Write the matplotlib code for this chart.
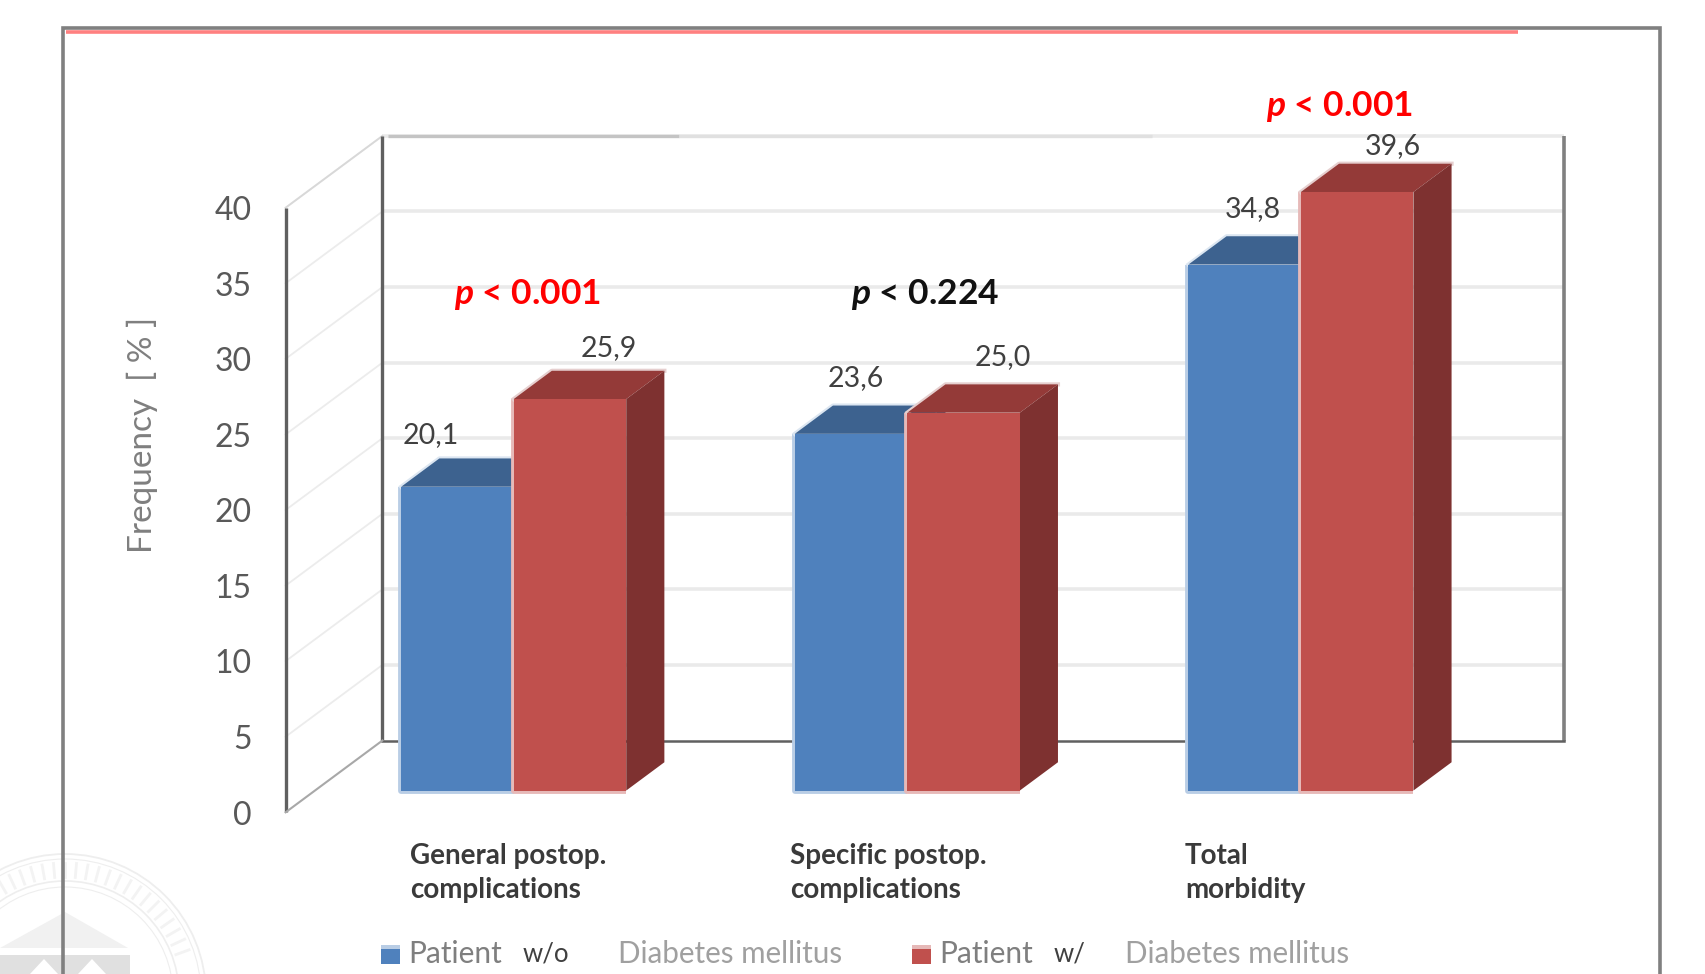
import matplotlib
matplotlib.use("Agg")
import matplotlib.pyplot as plt
import numpy as np
from matplotlib.patches import Circle, Polygon, Rectangle

plt.rcParams['font.family'] = ['Lato', 'DejaVu Sans']
plt.rcParams['mathtext.fontset'] = 'custom'
plt.rcParams['mathtext.it'] = 'Lato:italic:bold'

# values
categories = ["General postop.\ncomplications", "Specific postop.\ncomplications", "Total\nmorbidity"]
without_dm = [20.1, 23.6, 34.8]
with_dm = [25.9, 25.0, 39.6]
y_ticks = [0, 5, 10, 15, 20, 25, 30, 35, 40]
p_labels = ["< 0.001", "< 0.224", "< 0.001"]

# text placement, page pixels
cat_label_x = [410, 790, 1185]
p_label_xy = [(527, 295), (925, 295), (1339, 107)]
p_colors = ["#ff0000", "#111111", "#ff0000"]
blue_nudge = [(-27, 52), (5, 56), (8, 55)]
red_nudge = [(39, 51), (39, 56), (36, 46)]

W, H = 1705, 974

# oblique projection of the chart box
unit_y = 15.115
unit_x = 393.6
x_zero = 484.4
y_zero = 812.3
depth_dx = 96.8 / unit_x
depth_dy = 71.8 / unit_y
bar_width = 112.5 / unit_x
bar_d0 = 0.303
bar_d1 = 0.697
wall_l, wall_r = -0.505, 2.497
top = 40


def shift(d):
    return d * depth_dx, d * depth_dy


fig = plt.figure(figsize=(W / 100, H / 100), dpi=100)

# page layer: seal and frame
page = fig.add_axes([0, 0, 1, 1], zorder=0)
page.set_xlim(0, W)
page.set_ylim(H, 0)
page.axis("off")

seal = (65, 995)
for r, lw in [(141, 1.3), (136, 0.8), (114, 1.2), (108, 0.8)]:
    page.add_patch(Circle(seal, r, fill=False, ec="#eeeeee", lw=lw))
for a in np.radians(np.arange(200, 345, 5)):
    page.plot([seal[0] + 118 * np.cos(a), seal[0] + 132 * np.cos(a)],
              [seal[1] + 118 * np.sin(a), seal[1] + 132 * np.sin(a)],
              color="#f3f3f3", lw=2)
page.add_patch(Polygon([(0, 948), (65, 912), (128, 948)], fc="#f1f1f1", ec="none"))
page.add_patch(Rectangle((0, 955), 130, 19, fc="#e0e0e0", ec="none"))
for xs in [(30, 44, 58), (78, 92, 106)]:
    page.add_patch(Polygon([(xs[0], 974), (xs[1], 959), (xs[2], 974)], fc="white", ec="none"))

page.plot([63, 63, 1660, 1660], [974, 28, 28, 974], color="#808080", lw=2.6, solid_joinstyle="miter")
page.plot([66, 1518], [32, 32], color="#ff8080", lw=2.6, solid_capstyle="butt")

# chart layer
ax = fig.add_axes([0, 0, 1, 1], zorder=1)
ax.patch.set_alpha(0)
ax.set_xlim(-x_zero / unit_x, (W - x_zero) / unit_x)
ax.set_ylim((y_zero - H) / unit_y, y_zero / unit_y)
ax.axis("off")

bx, by = shift(1)

# gridlines on the back and side wall
for t in y_ticks[1:]:
    ax.plot([wall_l + bx, wall_r + bx], [t + by, t + by], color="#eaeaea", lw=2.6, solid_capstyle="butt", zorder=1)
    ax.plot([wall_l, wall_l + bx], [t, t + by], color="#ececec", lw=1.3, zorder=1)
ax.plot([wall_l + 0.26, wall_l + 1.0], [top + by, top + by], color="#c4c4c4", lw=2.4, solid_capstyle="butt", zorder=1)
ax.plot([wall_l + 1.0, wall_l + 2.2], [top + by, top + by], color="#e0e0e0", lw=2.4, solid_capstyle="butt", zorder=1)
ax.plot([wall_l, wall_l + bx], [top, top + by], color="#d8d8d8", lw=1.3, zorder=1)

# box edges
ax.plot([wall_l, wall_l], [0, top], color="#606060", lw=2.4, solid_capstyle="butt", zorder=2)
ax.plot([wall_l + bx, wall_l + bx], [by, top + by], color="#606060", lw=2.4, solid_capstyle="butt", zorder=2)
ax.plot([wall_r + bx, wall_r + bx], [by, top + by], color="#808080", lw=2.6, solid_capstyle="butt", zorder=2)
ax.plot([wall_l + bx, wall_r + bx], [by, by], color="#606060", lw=1.8, zorder=2)
ax.plot([wall_l, wall_l + bx], [0, by], color="#a8a8a8", lw=1.5, zorder=2)

# 3d looking bars
x = np.arange(len(categories))
fx, fy = shift(bar_d0)
kx, ky = shift(bar_d1)
series = [
    (without_dm, x - bar_width / 2, "#4f81bd", "#3d628f", "#3d628f", "#b9cde5", "#dce6f1", 3),
    (with_dm, x + bar_width / 2, "#c0504d", "#943a38", "#7e3130", "#e6b9b8", "#e6cfcf", 5),
]
for vals, pos, face, top_c, side_c, edge_c, back_c, z in series:
    for px, v in zip(pos, vals):
        l = px - bar_width / 2 + fx
        r = px + bar_width / 2 + fx
        vt = v + fy
        dx, dy = kx - fx, ky - fy
        ax.plot([l, l, r], [vt, fy, fy], color=edge_c, lw=4.2, solid_capstyle="butt", zorder=z)
        ax.plot([l, l + dx, r + dx], [vt, vt + dy, vt + dy], color=back_c, lw=3, zorder=z)
        ax.fill([l, l + dx, r + dx, r], [vt, vt + dy, vt + dy, vt], color=top_c, lw=0, zorder=z + 0.1)
        ax.fill([r, r + dx, r + dx, r], [vt, vt + dy, fy + dy, fy], color=side_c, lw=0, zorder=z + 0.1)
    ax.bar(pos + fx, vals, bar_width, bottom=fy, color=face, lw=0, zorder=z + 0.2)

# value labels above the bars
for vals, pos, nudge in [(without_dm, x - bar_width / 2, blue_nudge), (with_dm, x + bar_width / 2, red_nudge)]:
    for px, v, (nx, ny) in zip(pos, vals, nudge):
        ax.text(px + fx + nx / unit_x, v + fy + ny / unit_y, f"{v:.1f}".replace(".", ","),
                ha="center", va="center", fontsize=20.5, color="#404040", zorder=8)

# y axis numbers
for t in y_ticks:
    ax.text(wall_l - 34 / unit_x, t - 0.22, str(t), ha="right", va="center", fontsize=23, color="#595959", zorder=8)

page.text(142, 435, "Frequency  [ % ]", rotation=90, ha="center", va="center", fontsize=24, color="#7f7f7f")

# p values
for (tx, ty), lab, c in zip(p_label_xy, p_labels, p_colors):
    ax.text((tx - x_zero) / unit_x, (y_zero - ty) / unit_y, "$\\mathit{p}$ " + lab, ha="center", va="center",
            fontsize=25.5, fontweight="bold", color=c, zorder=9)

# group names
for lab, tx in zip(categories, cat_label_x):
    page.text(tx, 873, lab, ha="left", va="center", fontsize=20, fontweight="bold", color="#3a3a3a", linespacing=1.35)

# legend
for sq, col, edge, xs, mid in [(381, "#4f81bd", "#b9cde5", (408, 523, 618), "w/o"),
                               (912, "#c0504d", "#e6b9b8", (939, 1054, 1125), "w/")]:
    page.add_patch(Rectangle((sq, 945), 19, 19, fc=col, ec="none"))
    page.add_patch(Rectangle((sq, 945), 19, 4, fc=edge, ec="none"))
    page.text(xs[0], 954, "Patient", ha="left", va="center", fontsize=21.5, color="#7f7f7f")
    page.text(xs[1], 954, mid, ha="left", va="center", fontsize=18.5, color="#404040")
    page.text(xs[2], 954, "Diabetes mellitus", ha="left", va="center", fontsize=21.3, color="#a0a0a0")

fig.savefig("out.png", dpi=100)
